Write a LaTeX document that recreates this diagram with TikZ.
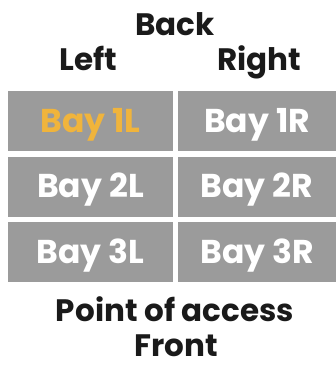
\documentclass[tikz,border=0pt]{standalone}
\usepackage{fontspec}
\setmainfont{Poppins}
\usetikzlibrary{positioning}

\definecolor{baygray}{RGB}{155,155,155}
\definecolor{bayorange}{RGB}{240,180,60}
\definecolor{inkblack}{RGB}{26,26,26}

\begin{document}
\begin{tikzpicture}[x=1pt, y=-1pt,
    bay/.style={fill=baygray, minimum height=60pt, inner sep=0pt,
      text height=22pt, text depth=0pt, text=white,
      font=\fontsize{33}{33}\selectfont\bfseries},
    label/.style={anchor=base, inner sep=0pt, text depth=0pt, text=inkblack,
      font=\fontsize{31}{31}\selectfont\bfseries}]
    % --- Frame ---
    \useasboundingbox (0,0) rectangle (336,365);

    % --- Bays, left column ---
    \node[bay, minimum width=165pt, text=bayorange] (b1l) at (90.5,121) {Bay 1L};
    \node[bay, minimum width=165pt] (b2l) at (90.5,186.5) {Bay 2L};
    \node[bay, minimum width=165pt] (b3l) at (90.5,252) {Bay 3L};

    % --- Bays, right column ---
    \node[bay, minimum width=158pt] (b1r) at (257,121) {Bay 1R};
    \node[bay, minimum width=158pt] (b2r) at (257,186.5) {Bay 2R};
    \node[bay, minimum width=158pt] (b3r) at (257,252) {Bay 3R};

    % --- Labels ---
    \node[label] (back) at (175,35) {Back};
    \node[label] (left) at (88.5,70) {Left};
    \node[label] (right) at (259.5,70) {Right};
    \node[label] (access) at (175,321) {Point of access};
    \node[label] (front) at (176.5,356) {Front};
\end{tikzpicture}
\end{document}
